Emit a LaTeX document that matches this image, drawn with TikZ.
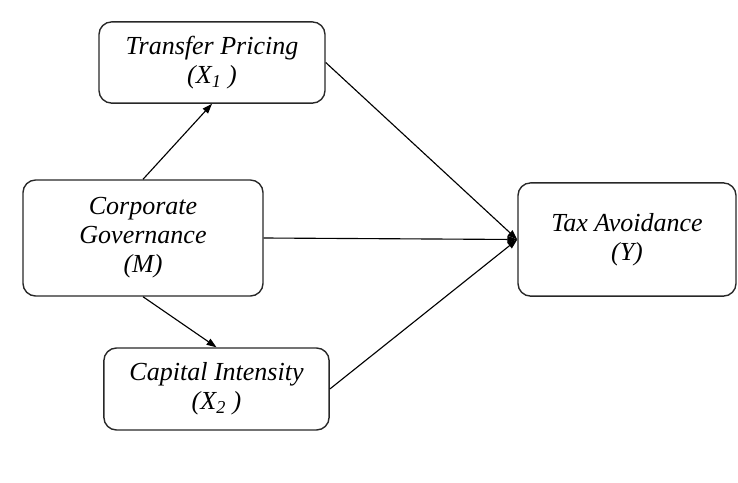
\documentclass[tikz,border=0pt]{standalone}
\usepackage{fontspec}
\setmainfont{Liberation Serif}
\usepackage{tikz}
\usetikzlibrary{arrows.meta, positioning}
\definecolor{DG}{RGB}{40,40,40}

\begin{document}
\begin{tikzpicture}[
  x=0.025cm, y=-0.025cm,
  vbox/.style={draw=DG, line width=1pt, rounded corners=9pt,
               minimum width=#1, align=center, inner sep=0pt,
               font=\fontsize{18.5}{20.6}\selectfont\itshape},
  arr/.style={-{Triangle[length=7pt,width=5pt]}, line width=0.8pt, draw=black}
]
\useasboundingbox (0,0) rectangle (738,482);

% variables
\node[vbox=5.65cm, minimum height=2.03cm] (tp) at (212,62.5)
  {Transfer Pricing\\(X\textsubscript{1} )};
\node[vbox=6.0cm, minimum height=2.9cm] (cg) at (143,238)
  {Corporate\\Governance\\(M)};
\node[vbox=5.63cm, minimum height=2.05cm] (ci) at (216.5,389)
  {Capital Intensity\\(X\textsubscript{2} )};
\node[vbox=5.45cm, minimum height=2.83cm] (ta) at (627,239.5)
  {Tax Avoidance\\(Y)};

% paths
\draw[arr] (cg.north) -- (tp.south);
\draw[arr] (cg.south) -- (ci.north);
\draw[arr] (tp.east) -- (ta.west);
\draw[arr] (cg.east) -- (ta.west);
\draw[arr] (ci.east) -- (ta.west);
\end{tikzpicture}
\end{document}
